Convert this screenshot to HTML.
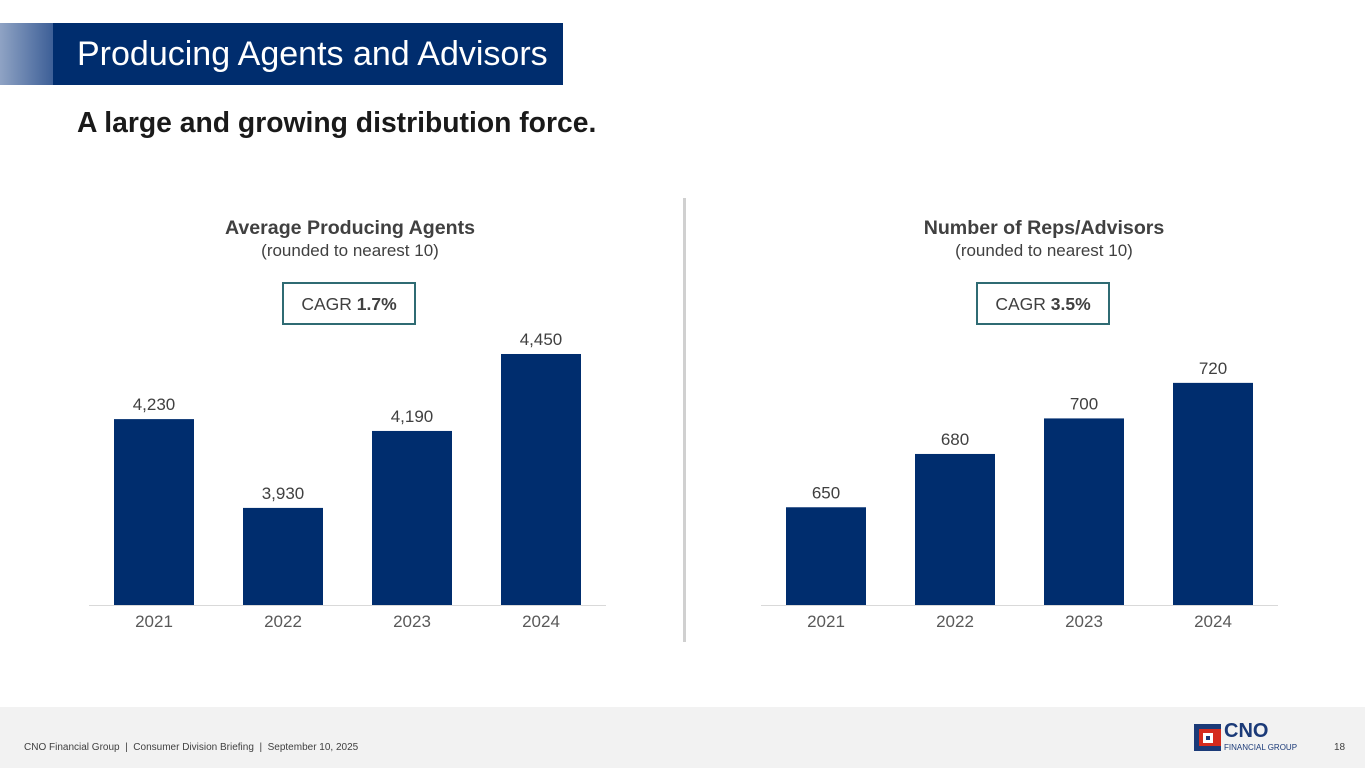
<!DOCTYPE html>
<html><head><meta charset="utf-8"><style>
body{margin:0;width:1365px;height:768px;position:relative;background:#fff;font-family:"Liberation Sans",sans-serif;overflow:hidden}
.abs{position:absolute}
</style></head><body>
<div class="abs" style="left:0;top:23px;width:53px;height:62px;background:linear-gradient(90deg,#8fa3c4,#3d5f97)"></div>
<div class="abs" style="left:53px;top:23px;width:510px;height:62px;background:#002d6e;color:#fff;font-size:34px;line-height:62px;padding-left:24px;box-sizing:border-box">Producing Agents and Advisors</div>
<div class="abs" style="left:77px;top:106px;font-size:28.3px;font-weight:bold;color:#1a1a1a">A large and growing distribution force.</div>
<div class="abs" style="left:683px;top:198px;width:3px;height:444px;background:#d0d0d0"></div>
<svg class="abs" style="left:0;top:0" width="1365" height="707">
<g id="c1"></g><g id="c2"></g>
</svg>
<div class="abs" style="left:0;top:707px;width:1365px;height:61px;background:#f2f2f2"></div>
<div class="abs" style="left:24px;top:742px;font-size:10px;color:#404040">CNO Financial Group &nbsp;|&nbsp; Consumer Division Briefing &nbsp;|&nbsp; September 10, 2025</div>
<div class="abs" style="left:1194px;top:724px;width:27px;height:27px;background:#1b3a78"><div style="position:absolute;left:5px;top:5px;width:22px;height:17px;background:#d52b1e"></div><div style="position:absolute;left:9px;top:9px;width:10px;height:10px;background:#fff"></div><div style="position:absolute;left:12px;top:12px;width:4px;height:4px;background:#1b3a78"></div></div>
<div class="abs" style="left:1224px;top:720px;color:#1b3a78;font-weight:bold;font-size:20px">CNO</div>
<div class="abs" style="left:1224px;top:743px;color:#1b3a78;font-size:8px">FINANCIAL GROUP</div>
<div class="abs" style="left:1334px;top:742px;font-size:10px;color:#404040">18</div>
<script>
const categories=["2021","2022","2023","2024"];
const agents=[4230,3930,4190,4450];
const agentLabels=["4,230","3,930","4,190","4,450"];
const reps=[650,680,700,720];
const repLabels=["650","680","700","720"];
const NS="http://www.w3.org/2000/svg";
function mk(p,t,a){const e=document.createElementNS(NS,t);for(const k in a)e.setAttribute(k,a[k]);p.appendChild(e);return e;}
function chart(g,x0,vals,labels,min,scale,title,cagr,cx){
  const base=605;
  const y=v=>base-(v-min)*scale;
  const t=mk(g,'text',{x:cx,y:234,'text-anchor':'middle','font-size':19.6,'font-weight':'bold',fill:'#404040'});t.textContent=title;
  
  
  const s=mk(g,'text',{x:cx,y:256,'text-anchor':'middle','font-size':17,fill:'#404040'});s.textContent='(rounded to nearest 10)';
  
  
  const r=mk(g,'rect',{x:cx-67,y:283,width:132,height:41,fill:'#fff',stroke:'#2f6b73','stroke-width':2});
  
  
  const ct=mk(g,'text',{x:cx-1,y:310,'text-anchor':'middle','font-size':17.5,fill:'#404040'});
  ct.innerHTML='CAGR <tspan font-weight="bold">'+cagr+'</tspan>';
  
  
  const ax=mk(g,'line',{x1:x0-25,x2:x0+492,y1:base+0.5,y2:base+0.5,stroke:'#d9d9d9'});
  
  
  vals.forEach((v,i)=>{
    const bx=x0+i*129;
    const b=mk(g,'rect',{x:bx,y:y(v),width:80,height:base-y(v),fill:'#002d6e'});
    
    
    const l=mk(g,'text',{x:bx+40,y:y(v)-9,'text-anchor':'middle','font-size':17,fill:'#404040'});l.textContent=labels[i];
    
    
    const c=mk(g,'text',{x:bx+40,y:627,'text-anchor':'middle','font-size':17,fill:'#595959'});c.textContent=categories[i];
    
    
  });
}
chart(document.getElementById('c1'),114,agents,agentLabels,3602,0.296,'Average Producing Agents','1.7%',350);
chart(document.getElementById('c2'),786,reps,repLabels,595,1.777,'Number of Reps/Advisors','3.5%',1044);
</script>
</body></html>
